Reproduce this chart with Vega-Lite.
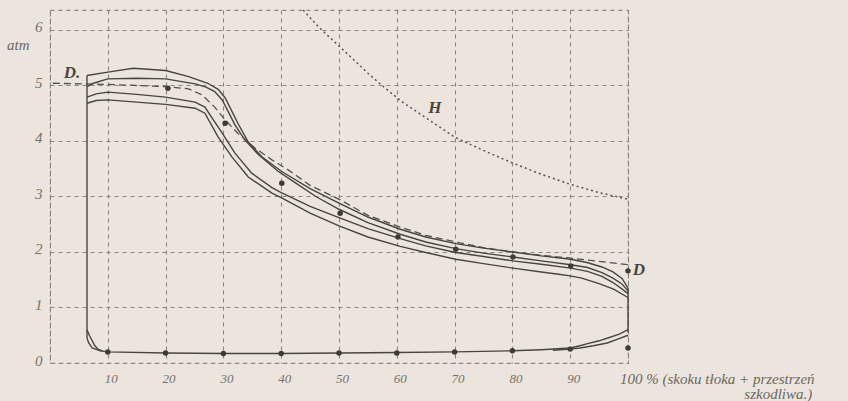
{
  "$schema": "https://vega.github.io/schema/vega-lite/v6.json",
  "width": 578,
  "height": 353,
  "autosize": {"type": "none"},
  "padding": {"left": 50, "top": 10, "right": 220, "bottom": 38},
  "config": {
    "background": "#ebe5de",
    "view": {"stroke": "#8c8782", "strokeDash": [4, 4], "strokeWidth": 1.1},
    "axis": {
      "domain": false, "ticks": false, "gridColor": "#8a8580", "gridDash": [4, 4], "gridWidth": 1.1,
      "labelFont": "Liberation Serif", "labelFontStyle": "italic", "labelFontSize": 14, "labelColor": "#77716b", "title": null
    }
  },
  "datasets": {
    "solid": [
      {"s": "A", "x": 6.4, "p": 5.18}, {"s": "A", "x": 10, "p": 5.24}, {"s": "A", "x": 14.4, "p": 5.31}, {"s": "A", "x": 20, "p": 5.27}, {"s": "A", "x": 24, "p": 5.16}, {"s": "A", "x": 27.3, "p": 5.04}, {"s": "A", "x": 29.1, "p": 4.93}, {"s": "A", "x": 30.3, "p": 4.78}, {"s": "A", "x": 32.5, "p": 4.32}, {"s": "A", "x": 34.3, "p": 3.98}, {"s": "A", "x": 36.7, "p": 3.71}, {"s": "A", "x": 40.1, "p": 3.45}, {"s": "A", "x": 45, "p": 3.14}, {"s": "A", "x": 50, "p": 2.88}, {"s": "A", "x": 55, "p": 2.63}, {"s": "A", "x": 60.6, "p": 2.41}, {"s": "A", "x": 65, "p": 2.27}, {"s": "A", "x": 70.2, "p": 2.15}, {"s": "A", "x": 75, "p": 2.07}, {"s": "A", "x": 80.1, "p": 2.0}, {"s": "A", "x": 85, "p": 1.93}, {"s": "A", "x": 90.1, "p": 1.87}, {"s": "A", "x": 92.9, "p": 1.81}, {"s": "A", "x": 95.5, "p": 1.73}, {"s": "A", "x": 97.4, "p": 1.64}, {"s": "A", "x": 99, "p": 1.52}, {"s": "A", "x": 100, "p": 1.35},
      {"s": "B", "x": 6.4, "p": 4.98}, {"s": "B", "x": 7.5, "p": 5.04}, {"s": "B", "x": 10, "p": 5.12}, {"s": "B", "x": 15, "p": 5.13}, {"s": "B", "x": 20, "p": 5.12}, {"s": "B", "x": 25.1, "p": 5.03}, {"s": "B", "x": 27, "p": 4.97}, {"s": "B", "x": 28.5, "p": 4.89}, {"s": "B", "x": 29.8, "p": 4.74}, {"s": "B", "x": 32, "p": 4.29}, {"s": "B", "x": 33.7, "p": 4.02}, {"s": "B", "x": 36, "p": 3.76}, {"s": "B", "x": 39.4, "p": 3.46}, {"s": "B", "x": 42.4, "p": 3.25}, {"s": "B", "x": 46, "p": 3.0}, {"s": "B", "x": 50, "p": 2.77}, {"s": "B", "x": 55, "p": 2.53}, {"s": "B", "x": 60.6, "p": 2.32}, {"s": "B", "x": 65, "p": 2.18}, {"s": "B", "x": 70.2, "p": 2.06}, {"s": "B", "x": 75, "p": 1.98}, {"s": "B", "x": 80.1, "p": 1.91}, {"s": "B", "x": 85, "p": 1.84}, {"s": "B", "x": 90.1, "p": 1.77}, {"s": "B", "x": 93, "p": 1.72}, {"s": "B", "x": 95.5, "p": 1.63}, {"s": "B", "x": 97.4, "p": 1.53}, {"s": "B", "x": 99, "p": 1.42}, {"s": "B", "x": 100, "p": 1.3},
      {"s": "C", "x": 6.4, "p": 4.79}, {"s": "C", "x": 8, "p": 4.85}, {"s": "C", "x": 10, "p": 4.88}, {"s": "C", "x": 15, "p": 4.84}, {"s": "C", "x": 20, "p": 4.79}, {"s": "C", "x": 25.1, "p": 4.7}, {"s": "C", "x": 26.8, "p": 4.61}, {"s": "C", "x": 28, "p": 4.42}, {"s": "C", "x": 29.8, "p": 4.14}, {"s": "C", "x": 32, "p": 3.78}, {"s": "C", "x": 34.9, "p": 3.42}, {"s": "C", "x": 38.4, "p": 3.16}, {"s": "C", "x": 40, "p": 3.07}, {"s": "C", "x": 45, "p": 2.82}, {"s": "C", "x": 50, "p": 2.62}, {"s": "C", "x": 55, "p": 2.42}, {"s": "C", "x": 60.6, "p": 2.24}, {"s": "C", "x": 65, "p": 2.11}, {"s": "C", "x": 70.2, "p": 1.99}, {"s": "C", "x": 75, "p": 1.92}, {"s": "C", "x": 80.1, "p": 1.84}, {"s": "C", "x": 85, "p": 1.78}, {"s": "C", "x": 90.1, "p": 1.71}, {"s": "C", "x": 93, "p": 1.65}, {"s": "C", "x": 95.5, "p": 1.56}, {"s": "C", "x": 97.4, "p": 1.45}, {"s": "C", "x": 99, "p": 1.33}, {"s": "C", "x": 100, "p": 1.25},
      {"s": "D", "x": 6.4, "p": 4.68}, {"s": "D", "x": 8, "p": 4.73}, {"s": "D", "x": 10, "p": 4.74}, {"s": "D", "x": 15, "p": 4.7}, {"s": "D", "x": 20, "p": 4.66}, {"s": "D", "x": 25.1, "p": 4.59}, {"s": "D", "x": 26.8, "p": 4.5}, {"s": "D", "x": 29.1, "p": 4.07}, {"s": "D", "x": 31.5, "p": 3.71}, {"s": "D", "x": 34.3, "p": 3.35}, {"s": "D", "x": 38.4, "p": 3.06}, {"s": "D", "x": 40, "p": 2.98}, {"s": "D", "x": 45, "p": 2.7}, {"s": "D", "x": 50, "p": 2.47}, {"s": "D", "x": 55, "p": 2.27}, {"s": "D", "x": 60.6, "p": 2.1}, {"s": "D", "x": 65, "p": 1.99}, {"s": "D", "x": 70.2, "p": 1.87}, {"s": "D", "x": 75, "p": 1.79}, {"s": "D", "x": 80.1, "p": 1.71}, {"s": "D", "x": 85, "p": 1.64}, {"s": "D", "x": 88, "p": 1.6}, {"s": "D", "x": 90, "p": 1.57}, {"s": "D", "x": 92, "p": 1.53}, {"s": "D", "x": 95, "p": 1.43}, {"s": "D", "x": 97.5, "p": 1.33}, {"s": "D", "x": 100, "p": 1.18},
      {"s": "L", "x": 6.4, "p": 0.45}, {"s": "L", "x": 6.4, "p": 5.18},
      {"s": "R", "x": 100, "p": 1.35}, {"s": "R", "x": 100, "p": 0.55},
      {"s": "E1", "x": 100, "p": 0.6}, {"s": "E1", "x": 98.5, "p": 0.52}, {"s": "E1", "x": 96.5, "p": 0.45}, {"s": "E1", "x": 95, "p": 0.4}, {"s": "E1", "x": 93, "p": 0.35}, {"s": "E1", "x": 91.7, "p": 0.31}, {"s": "E1", "x": 90, "p": 0.27}, {"s": "E1", "x": 85, "p": 0.24}, {"s": "E1", "x": 80, "p": 0.22}, {"s": "E1", "x": 70, "p": 0.2}, {"s": "E1", "x": 60, "p": 0.19}, {"s": "E1", "x": 50, "p": 0.18}, {"s": "E1", "x": 40, "p": 0.17}, {"s": "E1", "x": 30, "p": 0.17}, {"s": "E1", "x": 20, "p": 0.18}, {"s": "E1", "x": 10, "p": 0.2}, {"s": "E1", "x": 8.7, "p": 0.22}, {"s": "E1", "x": 7.3, "p": 0.27}, {"s": "E1", "x": 6.7, "p": 0.36}, {"s": "E1", "x": 6.4, "p": 0.45},
      {"s": "E2", "x": 100, "p": 0.5}, {"s": "E2", "x": 98, "p": 0.42}, {"s": "E2", "x": 96.4, "p": 0.36}, {"s": "E2", "x": 94, "p": 0.31}, {"s": "E2", "x": 91.7, "p": 0.27}, {"s": "E2", "x": 90, "p": 0.25}, {"s": "E2", "x": 87, "p": 0.23},
      {"s": "E3", "x": 6.4, "p": 0.6}, {"s": "E3", "x": 6.8, "p": 0.5}, {"s": "E3", "x": 7.3, "p": 0.4}, {"s": "E3", "x": 7.7, "p": 0.32}, {"s": "E3", "x": 8.3, "p": 0.25}, {"s": "E3", "x": 9, "p": 0.22}
    ],
    "dashed": [
      {"x": 0.5, "p": 5.04}, {"x": 5, "p": 5.03}, {"x": 10, "p": 5.02}, {"x": 15, "p": 5.0}, {"x": 20, "p": 4.98}, {"x": 24, "p": 4.94}, {"x": 26.3, "p": 4.83}, {"x": 28.5, "p": 4.61}, {"x": 30.3, "p": 4.38}, {"x": 32.5, "p": 4.14}, {"x": 35.5, "p": 3.87}, {"x": 38.4, "p": 3.66}, {"x": 41.2, "p": 3.48}, {"x": 45, "p": 3.2}, {"x": 50.2, "p": 2.94}, {"x": 55, "p": 2.66}, {"x": 60.6, "p": 2.45}, {"x": 65, "p": 2.3}, {"x": 70.2, "p": 2.18}, {"x": 75, "p": 2.08}, {"x": 80.1, "p": 2.0}, {"x": 85, "p": 1.94}, {"x": 90.1, "p": 1.89}, {"x": 95, "p": 1.83}, {"x": 100, "p": 1.77}
    ],
    "hyper": [
      {"x": 43.8, "p": 6.36}, {"x": 46.5, "p": 6.05}, {"x": 49.8, "p": 5.73}, {"x": 53, "p": 5.42}, {"x": 55, "p": 5.22}, {"x": 58, "p": 4.95}, {"x": 61, "p": 4.7}, {"x": 65, "p": 4.42}, {"x": 70, "p": 4.07}, {"x": 75, "p": 3.83}, {"x": 80.1, "p": 3.6}, {"x": 85, "p": 3.4}, {"x": 90, "p": 3.22}, {"x": 95, "p": 3.07}, {"x": 100, "p": 2.95}
    ],
    "dots": [
      {"x": 20.4, "p": 4.95}, {"x": 30.3, "p": 4.32}, {"x": 40.1, "p": 3.24}, {"x": 50.2, "p": 2.7}, {"x": 60.2, "p": 2.27}, {"x": 70.2, "p": 2.05}, {"x": 80.1, "p": 1.91}, {"x": 90.1, "p": 1.75}, {"x": 100, "p": 1.66},
      {"x": 10, "p": 0.2}, {"x": 20, "p": 0.18}, {"x": 30, "p": 0.17}, {"x": 40, "p": 0.17}, {"x": 50, "p": 0.18}, {"x": 60, "p": 0.18}, {"x": 70, "p": 0.2}, {"x": 80, "p": 0.22}, {"x": 90, "p": 0.25}, {"x": 100, "p": 0.27}
    ],
    "letters": [
      {"t": "D.", "x": 3.8, "p": 5.23}, {"t": "D", "x": 101.9, "p": 1.68}, {"t": "H", "x": 66.6, "p": 4.6}
    ],
    "atm": [
      {"t": "atm", "x": -5.5, "p": 5.73}
    ],
    "note1": [
      {"t": "100 % (skoku tłoka + przestrzeń", "x": 98.6, "p": -0.28}
    ],
    "note2": [
      {"t": "szkodliwa.)", "x": 126, "p": -0.56}
    ]
  },
  "encoding": {
    "x": {"field": "x", "type": "quantitative", "scale": {"domain": [0, 100], "nice": false},
      "axis": {"values": [0, 10, 20, 30, 40, 50, 60, 70, 80, 90, 100], "labelExpr": "datum.value == 0 || datum.value == 100 ? '' : datum.label", "labelPadding": 9, "labelFontSize": 13, "labelOffset": 3}},
    "y": {"field": "p", "type": "quantitative", "scale": {"domain": [0, 6.36], "nice": false},
      "axis": {"values": [0, 1, 2, 3, 4, 5, 6], "labelPadding": 8, "labelOffset": -3, "labelFontSize": 15}}
  },
  "layer": [
    {"data": {"name": "hyper"}, "mark": {"type": "line", "color": "#5a5450", "strokeWidth": 1.5, "strokeDash": [2, 3]}, "encoding": {"order": {"value": null}}},
    {"data": {"name": "dashed"}, "mark": {"type": "line", "color": "#55504b", "strokeWidth": 1.3, "strokeDash": [7, 4]}, "encoding": {"order": {"value": null}}},
    {"data": {"name": "solid"}, "mark": {"type": "line", "color": "#4a4440", "strokeWidth": 1.4}, "encoding": {"detail": {"field": "s"}, "order": {"value": null}}},
    {"data": {"name": "dots"}, "mark": {"type": "circle", "color": "#3f3a37", "size": 30, "opacity": 1}},
    {"data": {"name": "letters"}, "mark": {"type": "text", "font": "Liberation Serif", "fontStyle": "italic", "fontWeight": "bold", "fontSize": 17, "color": "#4a4541", "align": "center", "baseline": "middle"}, "encoding": {"text": {"field": "t"}}},
    {"data": {"name": "atm"}, "mark": {"type": "text", "font": "Liberation Serif", "fontStyle": "italic", "fontSize": 15, "color": "#6d6762", "align": "center", "baseline": "middle"}, "encoding": {"text": {"field": "t"}}},
    {"data": {"name": "note1"}, "mark": {"type": "text", "font": "Liberation Serif", "fontStyle": "italic", "fontSize": 15, "color": "#6d6762", "align": "left", "baseline": "middle"}, "encoding": {"text": {"field": "t"}}},
    {"data": {"name": "note2"}, "mark": {"type": "text", "font": "Liberation Serif", "fontStyle": "italic", "fontSize": 15, "color": "#6d6762", "align": "center", "baseline": "middle"}, "encoding": {"text": {"field": "t"}}}
  ]
}
